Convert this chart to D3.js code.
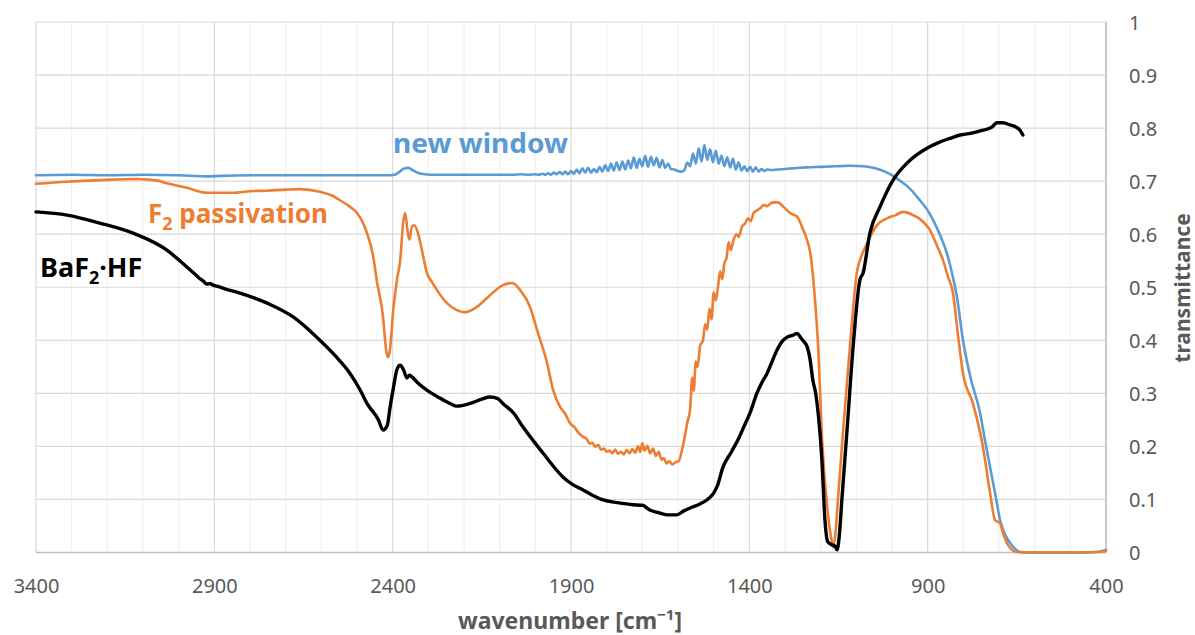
<!DOCTYPE html>
<html>
<head>
<meta charset="utf-8">
<script src="https://cdn.jsdelivr.net/npm/d3@7"></script>
<style>
  html, body { margin: 0; padding: 0; background: #fff; }
  svg { display: block; font-family: "Noto Sans", "Open Sans", sans-serif; }
</style>
</head>
<body>
<svg id="chart" width="1195" height="635"></svg>
<script>
// FTIR transmittance spectra: [wavenumber (cm^-1), transmittance]
const newWindow = [
  [3400,0.711],[3300,0.712],[3200,0.711],[3100,0.712],[3000,0.711],[2920,0.709],[2880,0.710],
  [2800,0.711],[2700,0.711],[2600,0.711],[2500,0.711],[2420,0.711],[2395,0.712],[2380,0.718],
  [2368,0.724],[2356,0.725],[2345,0.721],[2330,0.716],[2310,0.713],[2280,0.712],[2200,0.712],
  [2120,0.712],[2060,0.712],[2040,0.713],[2020,0.712],[2000,0.713],[1990,0.712],[1980,0.714],
  [1972,0.712],[1964,0.715],[1956,0.712],[1948,0.716],[1940,0.713],[1932,0.717],[1924,0.713],
  [1916,0.718],[1908,0.713],[1900,0.719],[1892,0.714],[1884,0.722],[1876,0.715],[1868,0.724],
  [1860,0.716],[1852,0.725],[1844,0.716],[1836,0.723],[1828,0.717],[1820,0.727],[1812,0.718],
  [1804,0.730],[1796,0.719],[1788,0.733],[1780,0.720],[1772,0.735],[1764,0.721],[1756,0.737],
  [1748,0.722],[1740,0.739],[1732,0.724],[1724,0.745],[1716,0.725],[1708,0.742],[1700,0.728],
  [1692,0.748],[1684,0.727],[1676,0.746],[1668,0.730],[1660,0.744],[1652,0.726],[1644,0.740],
  [1636,0.725],[1628,0.733],[1620,0.723],[1610,0.722],[1600,0.719],[1590,0.718],[1582,0.721],
  [1574,0.735],[1566,0.728],[1558,0.752],[1550,0.733],[1542,0.762],[1534,0.737],[1526,0.768],
  [1518,0.740],[1510,0.760],[1502,0.736],[1494,0.757],[1486,0.733],[1478,0.748],[1470,0.728],
  [1462,0.745],[1454,0.726],[1446,0.742],[1438,0.722],[1430,0.735],[1422,0.720],[1414,0.728],
  [1406,0.719],[1398,0.727],[1390,0.718],[1382,0.726],[1374,0.718],[1366,0.723],[1358,0.719],
  [1350,0.722],[1340,0.721],[1320,0.722],[1280,0.724],[1240,0.726],[1200,0.727],[1160,0.728],
  [1118,0.729],[1080,0.728],[1050,0.725],[1020,0.718],[997,0.710],[978,0.701],[950,0.686],
  [922,0.664],[900,0.645],[885,0.627],[865,0.598],[846,0.564],[832,0.527],[818,0.482],
  [801,0.400],[780,0.330],[753,0.263],[740,0.214],[725,0.161],[710,0.108],[697,0.061],
  [683,0.034],[669,0.018],[655,0.007],[641,0.001],[600,0.000],[500,0.000],[430,0.001],
  [410,0.003],[400,0.005]
];

const f2Passivation = [
  [3400,0.695],[3313,0.699],[3221,0.702],[3117,0.704],[3060,0.701],[3033,0.696],[2980,0.688],
  [2921,0.678],[2848,0.678],[2800,0.681],[2752,0.682],[2700,0.684],[2660,0.685],[2604,0.680],
  [2570,0.673],[2548,0.664],[2520,0.652],[2500,0.640],[2485,0.624],[2472,0.602],[2455,0.560],
  [2444,0.510],[2427,0.444],[2420,0.392],[2414,0.368],[2408,0.380],[2398,0.460],[2388,0.514],
  [2379,0.550],[2370,0.625],[2365,0.640],[2358,0.605],[2353,0.590],[2346,0.614],[2339,0.617],
  [2329,0.602],[2315,0.560],[2304,0.527],[2290,0.510],[2276,0.495],[2248,0.470],[2220,0.457],
  [2197,0.453],[2164,0.463],[2127,0.485],[2091,0.504],[2065,0.508],[2043,0.495],[2015,0.463],
  [1995,0.419],[1967,0.357],[1950,0.306],[1931,0.275],[1915,0.260],[1903,0.244],[1890,0.236],
  [1878,0.225],[1866,0.218],[1856,0.214],[1848,0.205],[1840,0.207],[1832,0.199],[1824,0.203],
  [1816,0.194],[1808,0.196],[1800,0.190],[1792,0.192],[1784,0.187],[1776,0.194],[1768,0.186],
  [1760,0.190],[1752,0.185],[1744,0.193],[1736,0.187],[1728,0.195],[1720,0.188],[1712,0.200],
  [1706,0.190],[1700,0.206],[1694,0.192],[1686,0.201],[1678,0.187],[1670,0.196],[1662,0.182],
  [1654,0.190],[1646,0.175],[1640,0.178],[1632,0.168],[1624,0.172],[1616,0.166],[1608,0.170],
  [1598,0.172],[1590,0.190],[1582,0.215],[1574,0.245],[1566,0.270],[1560,0.330],[1556,0.305],
  [1550,0.360],[1545,0.350],[1538,0.390],[1530,0.400],[1524,0.430],[1518,0.420],[1512,0.460],
  [1506,0.440],[1500,0.490],[1494,0.475],[1488,0.500],[1482,0.530],[1476,0.515],[1470,0.545],
  [1464,0.555],[1458,0.585],[1452,0.570],[1444,0.590],[1436,0.600],[1430,0.595],[1420,0.615],
  [1412,0.620],[1404,0.630],[1396,0.625],[1388,0.640],[1378,0.645],[1368,0.650],[1360,0.655],
  [1350,0.653],[1340,0.658],[1330,0.660],[1320,0.660],[1305,0.652],[1286,0.640],[1266,0.633],
  [1250,0.610],[1238,0.589],[1228,0.560],[1220,0.510],[1214,0.460],[1207,0.388],[1196,0.212],
  [1180,0.075],[1170,0.025],[1165,0.010],[1158,0.040],[1151,0.105],[1137,0.231],[1118,0.388],
  [1098,0.530],[1085,0.560],[1070,0.583],[1042,0.617],[1014,0.630],[990,0.636],[969,0.642],
  [941,0.636],[915,0.625],[894,0.608],[875,0.580],[857,0.551],[843,0.520],[829,0.489],
  [815,0.410],[801,0.338],[773,0.281],[745,0.199],[725,0.112],[711,0.061],[697,0.055],
  [690,0.040],[678,0.018],[665,0.006],[650,0.001],[600,0.000],[500,0.000],[420,0.001],
  [400,0.003]
];

const baf2hf = [
  [3400,0.642],[3313,0.636],[3221,0.621],[3128,0.602],[3033,0.570],[2977,0.538],[2950,0.522],
  [2940,0.516],[2930,0.511],[2921,0.506],[2912,0.507],[2904,0.504],[2893,0.502],[2870,0.497],
  [2828,0.489],[2752,0.470],[2679,0.444],[2604,0.400],[2560,0.370],[2520,0.338],[2490,0.305],
  [2472,0.281],[2440,0.250],[2427,0.231],[2415,0.240],[2407,0.275],[2399,0.306],[2388,0.345],
  [2379,0.353],[2370,0.345],[2360,0.329],[2353,0.334],[2346,0.331],[2330,0.320],[2304,0.306],
  [2270,0.292],[2239,0.281],[2220,0.276],[2183,0.281],[2150,0.289],[2127,0.293],[2105,0.290],
  [2091,0.281],[2060,0.262],[2035,0.237],[2005,0.210],[1978,0.187],[1950,0.163],[1922,0.142],
  [1895,0.128],[1866,0.118],[1840,0.108],[1810,0.099],[1770,0.094],[1726,0.090],[1700,0.089],
  [1679,0.080],[1655,0.075],[1631,0.071],[1603,0.071],[1585,0.078],[1566,0.084],[1540,0.091],
  [1519,0.099],[1500,0.112],[1490,0.125],[1474,0.161],[1450,0.190],[1430,0.215],[1410,0.245],
  [1398,0.263],[1379,0.300],[1365,0.320],[1350,0.338],[1335,0.362],[1322,0.382],[1308,0.398],
  [1294,0.406],[1276,0.410],[1266,0.413],[1256,0.405],[1250,0.400],[1238,0.388],[1230,0.365],
  [1222,0.325],[1214,0.300],[1207,0.263],[1196,0.168],[1188,0.061],[1180,0.020],[1170,0.015],
  [1160,0.012],[1154,0.005],[1148,0.030],[1140,0.105],[1126,0.231],[1109,0.388],[1090,0.514],
  [1081,0.527],[1062,0.602],[1034,0.651],[997,0.702],[958,0.734],[930,0.750],[902,0.762],
  [865,0.774],[840,0.780],[809,0.787],[780,0.790],[745,0.796],[720,0.802],[706,0.810],
  [690,0.810],[669,0.806],[650,0.801],[641,0.796],[633,0.787]
];

const xTicks = [3400, 2900, 2400, 1900, 1400, 900, 400];
const yTicks = [0, 0.1, 0.2, 0.3, 0.4, 0.5, 0.6, 0.7, 0.8, 0.9, 1];

const svg = d3.select("#chart");
const plotLeft = 36, plotRight = 1106, plotTop = 22, plotBottom = 552.5;

const x = d3.scaleLinear().domain([3400, 400]).range([plotLeft, plotRight]);
const y = d3.scaleLinear().domain([0, 1]).range([plotBottom, plotTop]);

// minor vertical gridlines every 100 cm^-1
svg.append("g").selectAll("line")
  .data(d3.range(400, 3401, 100).filter(v => (3400 - v) % 500 !== 0))
  .join("line")
  .attr("x1", d => x(d)).attr("x2", d => x(d))
  .attr("y1", plotTop).attr("y2", plotBottom)
  .attr("stroke", "#eeeeee").attr("stroke-width", 1);

// major gridlines
svg.append("g").selectAll("line")
  .data(xTicks)
  .join("line")
  .attr("x1", d => x(d)).attr("x2", d => x(d))
  .attr("y1", plotTop).attr("y2", plotBottom)
  .attr("stroke", "#d9d9d9").attr("stroke-width", 1.2);

svg.append("g").selectAll("line")
  .data(yTicks)
  .join("line")
  .attr("x1", plotLeft).attr("x2", plotRight)
  .attr("y1", d => y(d)).attr("y2", d => y(d))
  .attr("stroke", "#d9d9d9").attr("stroke-width", 1.2);

// axis lines
svg.append("line").attr("x1", plotLeft).attr("x2", plotRight)
  .attr("y1", y(0)).attr("y2", y(0))
  .attr("stroke", "#bfbfbf").attr("stroke-width", 1.5);
svg.append("line").attr("x1", x(400)).attr("x2", x(400))
  .attr("y1", plotTop).attr("y2", plotBottom)
  .attr("stroke", "#bfbfbf").attr("stroke-width", 1.5);

// bottom axis labels
const xAxis = d3.axisBottom(x).tickValues(xTicks).tickSize(0).tickPadding(0)
  .tickFormat(d3.format("d"));
const gx = svg.append("g").attr("transform", `translate(0, ${plotBottom})`).call(xAxis);
gx.select(".domain").remove();
gx.selectAll("text")
  .attr("y", 0).attr("dy", null)
  .attr("transform", "translate(0, 40)")
  .attr("font-family", "Noto Sans")
  .attr("font-size", 20)
  .attr("fill", "#595959");

// right axis labels
const yAxis = d3.axisRight(y).tickValues(yTicks).tickSize(0).tickPadding(0)
  .tickFormat(d => d === 0 ? "0" : d === 1 ? "1" : d3.format(".1f")(d));
const gy = svg.append("g").attr("transform", `translate(1129, 0)`).call(yAxis);
gy.select(".domain").remove();
gy.selectAll("text")
  .attr("x", 0).attr("dy", "0.35em")
  .attr("text-anchor", "start")
  .attr("font-family", "Noto Sans")
  .attr("font-size", 20)
  .attr("fill", "#595959");

// axis titles
const xt = svg.append("text")
  .attr("x", 570).attr("y", 629)
  .attr("text-anchor", "middle")
  .attr("font-size", 23).attr("font-weight", "bold")
  .attr("fill", "#595959");
xt.append("tspan").text("wavenumber [cm");
xt.append("tspan").attr("font-size", 15).attr("dy", -9).text("\u22121");
xt.append("tspan").attr("dy", 9).text("]");

svg.append("text")
  .attr("transform", "translate(1190, 288) rotate(-90)")
  .attr("text-anchor", "middle")
  .attr("font-size", 21).attr("font-weight", "bold")
  .attr("fill", "#595959")
  .text("transmittance");

// spectra
const line = d3.line()
  .x(d => x(d[0]))
  .y(d => y(d[1]))
  .curve(d3.curveMonotoneX);

const series = [
  { data: newWindow, color: "#5b9bd5", width: 2.6 },
  { data: f2Passivation, color: "#ed7d31", width: 2.6 },
  { data: baf2hf, color: "#000000", width: 3.4 }
];

svg.append("g").selectAll("path")
  .data(series)
  .join("path")
  .attr("d", d => line(d.data))
  .attr("fill", "none")
  .attr("stroke", d => d.color)
  .attr("stroke-width", d => d.width)
  .attr("stroke-linejoin", "round")
  .attr("stroke-linecap", "round");

// curve labels
svg.append("text")
  .attr("x", 393).attr("y", 153)
  .attr("font-size", 27).attr("font-weight", "bold")
  .attr("fill", "#5b9bd5")
  .attr("textLength", 175).attr("lengthAdjust", "spacingAndGlyphs")
  .text("new window");

const f2 = svg.append("text")
  .attr("x", 148).attr("y", 223)
  .attr("font-size", 26).attr("font-weight", "bold")
  .attr("fill", "#ed7d31");
f2.append("tspan").text("F");
f2.append("tspan").attr("font-size", 18).attr("dy", 7).text("2");
f2.append("tspan").attr("dy", -7).text(" passivation");

const bf = svg.append("text")
  .attr("x", 40).attr("y", 277)
  .attr("font-size", 27).attr("font-weight", "bold")
  .attr("fill", "#000000");
bf.append("tspan").text("BaF");
bf.append("tspan").attr("font-size", 18).attr("dy", 7).text("2");
bf.append("tspan").attr("dy", -7).text("\u00b7HF");
</script>
</body>
</html>
